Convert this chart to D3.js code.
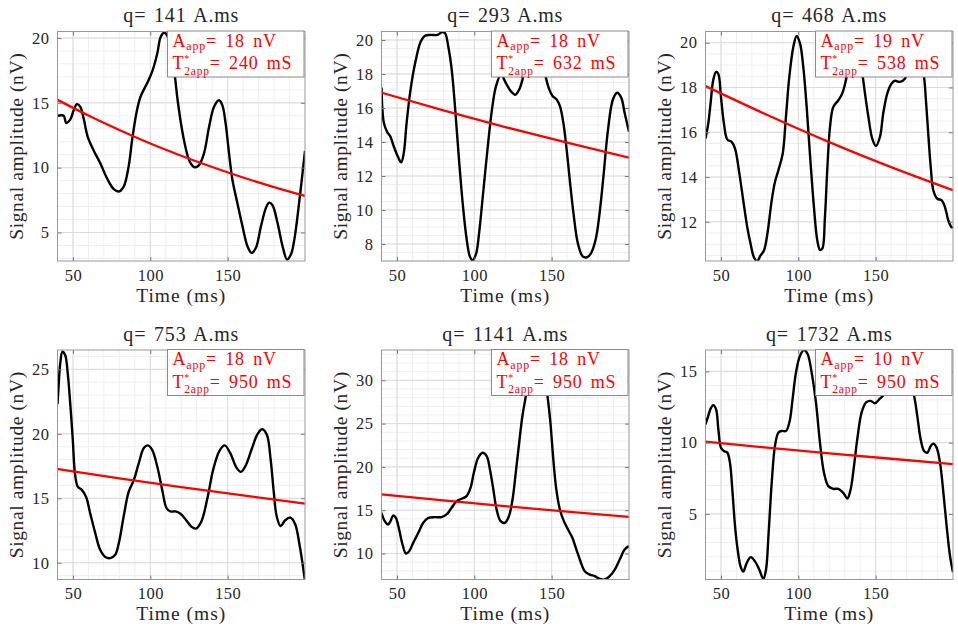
<!DOCTYPE html>
<html>
<head>
<meta charset="utf-8">
<script src="https://cdn.jsdelivr.net/npm/d3@7"></script>
<style>
  body { margin: 0; background: #fff; }
  svg { display: block; font-family: "Liberation Serif", "Times New Roman", serif; }
  svg text { font-family: "Liberation Serif", "Times New Roman", serif; }
</style>
</head>
<body>
<svg width="958" height="632"></svg>
<script>
// ---- data ----
const xDomain = [40, 200];
const xTicks = [50, 100, 150];

const qValues = [141, 293, 468, 753, 1141, 1732];
const aApp = [18, 18, 19, 18, 18, 10];
const t2App = [240, 632, 538, 950, 950, 950];

const yLimits = [[2.8, 20.5], [7, 20.5], [10.25, 20.5], [8.7, 26.5], [7, 33.5], [0.4, 16.5]];
const yTicks = [[5, 10, 15, 20], [8, 10, 12, 14, 16, 18, 20], [12, 14, 16, 18, 20],
                [10, 15, 20, 25], [10, 15, 20, 25, 30], [5, 10, 15]];
const yMinorStep = [1, 0.5, 0.5, 1, 1, 1];

// measured signal (time ms, amplitude nV)
const signal141 = [[40,14.0],[44,14.0],[45.6,13.45],[48.2,13.7],[50.4,14.4],[52.5,14.9],[54.7,14.7],[56.9,13.8],
  [59.5,12.4],[63.3,11.35],[67.7,10.33],[72,9.18],[76.4,8.34],[79.6,8.16],[82.8,8.54],[86,10.1],[88.2,12.1],
  [91,14.2],[93.6,15.45],[97.9,16.5],[101.2,17.4],[104.5,18.8],[106.6,20.05],[108.8,20.4],[110.9,20.2],
  [113,19.0],[115.7,17.2],[117.4,15.45],[119.5,13.66],[121.8,12.1],[124,10.97],[126.1,10.33],[128.6,10.03],
  [131.5,10.2],[134.7,11.1],[138,13.15],[141.2,14.7],[144.4,15.2],[146.6,14.8],[148.7,13.4],[150.9,11.1],
  [153.1,9.05],[156.3,7.26],[159.6,5.47],[162.8,3.94],[165.4,3.43],[168.2,3.8],[171.5,5.47],[174.7,6.88],
  [176.8,7.3],[179,7.1],[182.3,5.7],[185.5,3.94],[188.4,2.92],[190.9,3.3],[193.1,4.45],[196.4,7.5],[200,11.3]];
const signal293 = [[40,17.2],[40.6,15.9],[41.6,15.1],[43.6,14.6],[45.8,14.3],[47.9,13.75],[50.5,13.16],[52.7,12.8],
  [54.4,13.35],[56.2,15.1],[58.8,17.1],[62,18.75],[65.3,19.9],[68.1,20.25],[71.7,20.3],[76.1,20.3],[79.3,20.47],
  [81.1,20.4],[83.2,19.6],[85.4,18.25],[87.5,16.1],[90.1,12.96],[92.7,10.2],[95.1,8.25],[97.1,7.27],[98.8,7.04],
  [101,7.37],[103.1,8.65],[105.7,11.0],[108.5,13.55],[111.4,15.9],[114,17.27],[117.2,17.96],[120.4,17.47],
  [123.7,16.98],[126.5,16.78],[129.1,17.1],[131.7,17.86],[134.5,18.9],[138,19.5],[141.5,19.4],[144.5,18.6],
  [146.5,17.7],[148.5,17.08],[150.6,16.7],[153.2,16.5],[155.4,16.1],[157.6,15.1],[159.7,13.55],[161.9,11.6],
  [164.1,9.82],[166.9,8.06],[170.1,7.27],[172.9,7.22],[175.5,7.47],[178.4,8.25],[181,9.82],[183.5,12.0],
  [186.4,14.7],[189.6,16.5],[192.4,16.9],[195,16.6],[197.2,15.7],[200,14.6]];
const signal468 = [[40,15.72],[41.8,16.4],[43.3,17.3],[45,18.33],[46.8,18.7],[48.3,18.6],[50,17.58],[51.9,16.4],
  [54.1,15.67],[56.9,15.57],[59.1,15.27],[61.9,14.15],[64.4,12.96],[67,11.76],[69.2,11.0],[71.3,10.42],
  [73.5,10.25],[75.6,10.5],[77.8,10.72],[80,11.46],[82.8,12.96],[84.9,13.78],[87.1,14.3],[89.9,15.04],
  [92,16.69],[94.2,18.48],[96.8,19.82],[98.9,20.3],[101.1,19.97],[103.2,18.93],[105.4,17.13],[107.5,15.04],
  [110.1,12.66],[112.3,11.16],[114,10.75],[115.5,10.8],[117.2,12.2],[118.8,14.45],[120.5,16.24],[122.6,17.13],
  [125.9,17.43],[128.4,17.73],[131.3,18.48],[134,19.3],[137,19.6],[140,19.0],[141.8,18.4],[143.1,17.73],
  [145.3,16.69],[147.8,15.72],[150.2,15.39],[152.8,15.8],[154.9,16.84],[157.5,17.73],[160.3,18.18],
  [162.5,18.3],[165.7,18.25],[169,18.4],[172,19.2],[175,19.6],[178,19.4],[181,18.6],[182.5,17.43],[184,15.94],
  [185.6,14.45],[187.3,13.4],[189.9,13.03],[192.7,12.96],[194.8,12.66],[197,12.06],[199.1,11.76],[200,11.76]];
const signal753 = [[40,22.3],[40.7,23.7],[41.8,25.5],[43.2,26.37],[45,26.1],[46.6,24.7],[48.2,22.4],[49.9,19.5],
  [51.3,16.9],[53.1,15.9],[55.7,15.65],[58.5,15.1],[61.1,13.85],[64.4,12.3],[67.6,11.0],[70.9,10.44],
  [74.1,10.36],[77.3,10.62],[79.6,11.5],[82.8,13.6],[86,15.5],[89.3,16.4],[92.5,17.7],[95.8,18.9],[98.5,19.1],
  [101.2,18.75],[104.5,17.46],[107.7,15.65],[110.5,14.23],[113,13.98],[116.3,13.98],[119.5,13.8],[123.2,13.3],
  [126.5,12.8],[129.5,12.65],[133,13.2],[136.9,15.0],[140.8,17.3],[144.8,18.7],[148.1,19.1],[151.7,18.5],
  [155.6,17.4],[158.6,17.05],[161.5,17.5],[165.5,18.8],[169.4,20.0],[172.4,20.35],[175.4,19.9],[177.8,18.0],
  [179.8,15.5],[181.7,13.6],[184.2,12.85],[187.2,13.3],[190.6,13.5],[193.6,13.0],[196.6,11.3],[200,8.6]];
const signal1141 = [[40,14.7],[42.1,13.74],[44.3,13.35],[45.8,13.74],[47.6,14.4],[49.3,14.12],[51.4,12.77],
  [53.6,11.04],[55.8,10.0],[57.9,10.27],[60.5,11.23],[63.8,12.39],[67,13.55],[70.3,14.12],[74.5,14.2],
  [78.8,14.2],[82.1,14.51],[85.3,15.28],[88.6,16.05],[91.8,16.32],[95,16.63],[97.6,17.6],[99.7,19.33],
  [102.5,21.06],[105.4,21.64],[108,21.25],[110.1,19.71],[112.3,17.4],[114.4,15.09],[117,13.74],[119.8,13.55],
  [122.4,14.32],[124.7,16.24],[126.8,19.33],[129,22.79],[131.1,25.88],[133.3,28.19],[135.5,31.0],[138,33.0],
  [140.5,33.5],[143,32.8],[145.3,30.5],[147.3,28.19],[149.2,25.1],[150.9,21.25],[153,17.4],[155.3,15.09],
  [157.9,13.74],[160.6,12.77],[163.4,11.81],[166,10.46],[168.6,9.11],[171.4,7.96],[174.7,7.57],[177.9,7.38],
  [181.1,7.07],[184.3,7.0],[187.5,7.38],[190.8,8.15],[194,9.3],[197.2,10.46],[200,10.85]];
const signal1732 = [[40,11.29],[41.8,11.88],[43.3,12.39],[45,12.63],[46.8,12.35],[48.3,10.94],[50,9.65],
  [51.9,9.41],[54.1,9.3],[55.8,8.59],[57.5,6.48],[59.1,4.13],[60.8,2.49],[62.7,1.31],[64.4,0.96],[66.6,1.55],
  [69.2,1.97],[72,1.67],[74.8,1.08],[77.4,0.45],[79.1,1.08],[80.8,3.66],[82.8,7.18],[84.9,9.77],[87.1,10.7],
  [89.2,10.82],[92,10.82],[94.2,11.41],[96.3,13.05],[98.5,14.93],[101.1,16.1],[103.7,16.5],[106,16.22],
  [108.6,14.93],[111.4,12.82],[114,10.0],[116.6,7.89],[119.4,6.95],[122.6,6.76],[125.9,6.76],[129.1,6.48],
  [131.7,6.08],[133.8,6.71],[136,8.36],[138.1,10.23],[140.9,12.11],[143.8,12.82],[146.8,12.93],[149.6,12.77],
  [152.4,13.05],[155,13.33],[158,13.8],[162,14.3],[166,14.5],[170,14.3],[173,13.8],[174.8,13.29],[176.9,11.88],
  [179.1,10.23],[181.3,9.41],[183.4,9.3],[185.6,9.77],[187.3,9.93],[189.4,9.65],[191.6,8.59],[193.8,6.48],
  [195.9,4.13],[198.1,2.02],[200,0.9]];

// fitted decay curves (red)
const fit141 = [[40,15.23],[60,14.02],[80,12.9],[100,11.86],[120,10.92],[140,10.05],[160,9.24],[180,8.5],[200,7.82]];
const fit293 = [[40,16.9],[80,15.86],[120,14.88],[160,13.96],[200,13.08]];
const fit468 = [[40,18.06],[80,16.77],[120,15.56],[160,14.44],[200,13.41]];
const fit753 = [[40,17.26],[80,16.55],[120,15.87],[160,15.22],[200,14.59]];
const fit1141 = [[40,16.83],[80,16.13],[120,15.47],[160,14.83],[200,14.22]];
const fit1732 = [[40,10.07],[80,9.65],[120,9.25],[160,8.87],[200,8.5]];

const signals = [signal141, signal293, signal468, signal753, signal1141, signal1732];
const fits = [fit141, fit293, fit468, fit753, fit1141, fit1732];

// ---- layout ----
const colX = [57.5, 381.5, 705.5];
const rowY = [31.5, 350];
const plotW = 247.5, plotH = 229.5;

const svg = d3.select("svg");

// draws a line of legend text piece by piece (sub/superscripts)
function richLine(g, x, y, parts) {
    let cx = x;
    parts.forEach(p => {
        const items = p.stack || [p];
        let w = 0;
        items.forEach(s => {
            const t = g.append("text")
                .attr("x", cx)
                .attr("y", y + (s.dy || 0))
                .attr("font-size", s.size)
                .attr("fill", "#ff0000")
                .style("letter-spacing", "0.8px")
                .style("word-spacing", "3px")
                .text(s.text);
            w = Math.max(w, t.node().getComputedTextLength());
        });
        cx += w;
    });
}

qValues.forEach((q, i) => {
    const x0 = colX[i % 3], y0 = rowY[Math.floor(i / 3)];
    const g = svg.append("g").attr("transform", `translate(${x0},${y0})`);

    const x = d3.scaleLinear().domain(xDomain).range([0, plotW]);
    const y = d3.scaleLinear().domain(yLimits[i]).range([plotH, 0]);

    // minor grid
    const yMin = yLimits[i][0], yMax = yLimits[i][1], st = yMinorStep[i];
    const minorY = d3.range(Math.ceil(yMin / st) * st, yMax, st);
    const minorX = d3.range(xDomain[0] + 10, xDomain[1], 10);
    g.append("g").selectAll("line").data(minorX).join("line")
        .attr("x1", d => x(d)).attr("x2", d => x(d)).attr("y1", 0).attr("y2", plotH)
        .attr("stroke", "#efefef").attr("stroke-width", 1);
    g.append("g").selectAll("line").data(minorY).join("line")
        .attr("y1", d => y(d)).attr("y2", d => y(d)).attr("x1", 0).attr("x2", plotW)
        .attr("stroke", "#efefef").attr("stroke-width", 1);
    // major grid
    g.append("g").selectAll("line").data(xTicks).join("line")
        .attr("x1", d => x(d)).attr("x2", d => x(d)).attr("y1", 0).attr("y2", plotH)
        .attr("stroke", "#dcdcdc").attr("stroke-width", 1);
    g.append("g").selectAll("line").data(yTicks[i]).join("line")
        .attr("y1", d => y(d)).attr("y2", d => y(d)).attr("x1", 0).attr("x2", plotW)
        .attr("stroke", "#dcdcdc").attr("stroke-width", 1);

    // curves
    const clipId = "clip" + i;
    g.append("clipPath").attr("id", clipId)
        .append("rect").attr("width", plotW).attr("height", plotH);
    const line = d3.line().x(d => x(d[0])).y(d => y(d[1]));
    g.append("path")
        .attr("clip-path", `url(#${clipId})`)
        .attr("d", line.curve(d3.curveCatmullRom.alpha(0.5))(signals[i]))
        .attr("fill", "none").attr("stroke", "#000").attr("stroke-width", 2.4)
        .attr("stroke-linejoin", "round");
    g.append("path")
        .attr("clip-path", `url(#${clipId})`)
        .attr("d", line.curve(d3.curveMonotoneX)(fits[i]))
        .attr("fill", "none").attr("stroke", "#ff0000").attr("stroke-width", 2.3);

    // axes
    const styleAxis = sel => {
        sel.select(".domain").remove();
        sel.selectAll(".tick line").attr("stroke", "#777");
        sel.selectAll("text").attr("fill", "#262626")
            .attr("font-size", 16.5).style("letter-spacing", "0.5px")
            .style("font-family", "'Liberation Serif', serif");
    };
    g.append("g").attr("transform", `translate(0,${plotH})`)
        .call(d3.axisBottom(x).tickValues(xTicks).tickSize(-4).tickPadding(7.8))
        .call(styleAxis);
    g.append("g")
        .call(d3.axisLeft(y).tickValues(yTicks[i]).tickSize(-4).tickPadding(8))
        .call(styleAxis);
    g.append("g")
        .call(d3.axisTop(x).tickValues(xTicks).tickSize(-4).tickFormat(""))
        .call(styleAxis);
    g.append("g").attr("transform", `translate(${plotW},0)`)
        .call(d3.axisRight(y).tickValues(yTicks[i]).tickSize(-4).tickFormat(""))
        .call(styleAxis);
    g.append("rect").attr("width", plotW).attr("height", plotH)
        .attr("fill", "none").attr("stroke", "#999").attr("stroke-width", 1);

    // legend box
    const lw = 136.5, lh = 46;
    const lg = g.append("g").attr("transform", `translate(${plotW - lw - 1},-0.5)`);
    lg.append("rect").attr("width", lw).attr("height", lh)
        .attr("fill", "#fff").attr("stroke", "#8a8a8a").attr("stroke-width", 1);
    richLine(lg, 5, 15.5, [
        { text: "A", size: 18 },
        { text: "app", size: 12, dy: 3.5 },
        { text: `= ${aApp[i]} nV`, size: 18 }
    ]);
    richLine(lg, 5, 38, [
        { text: "T", size: 18 },
        { stack: [{ text: "*", size: 10, dy: -7 }, { text: "2app", size: 11.5, dy: 5.5 }] },
        { text: `= ${t2App[i]} mS`, size: 18 }
    ]);

    // titles and labels
    g.append("text")
        .attr("x", plotW / 2).attr("y", -9.5)
        .attr("text-anchor", "middle").attr("font-size", 20).attr("fill", "#262626")
        .style("letter-spacing", "0.8px").style("word-spacing", "2px")
        .text(`q= ${q} A.ms`);
    g.append("text")
        .attr("x", plotW / 2).attr("y", plotH + 40.5)
        .attr("text-anchor", "middle").attr("font-size", 19.5).attr("fill", "#262626")
        .style("letter-spacing", "1px")
        .text("Time (ms)");
    g.append("text")
        .attr("transform", `translate(-35,${plotH / 2}) rotate(-90)`)
        .attr("text-anchor", "middle").attr("font-size", 19.5).attr("fill", "#262626")
        .style("letter-spacing", "0.6px")
        .text("Signal amplitude (nV)");
});
</script>
</body>
</html>
